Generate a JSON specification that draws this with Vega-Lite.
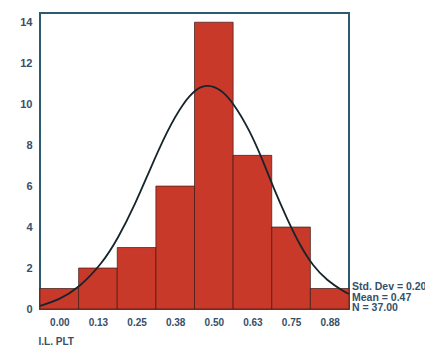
{
  "$schema": "https://vega.github.io/schema/vega-lite/v6.json",
  "width": 309,
  "height": 296,
  "autosize": "none",
  "padding": {"left": 40, "top": 13, "right": 76, "bottom": 43},
  "background": "white",
  "config": {
    "view": {"stroke": "#2c5a6e", "strokeWidth": 2},
    "font": "Liberation Sans"
  },
  "datasets": {
    "bins": [
      {"bin_start": -0.0625, "bin_end": 0.0625, "count": 1},
      {"bin_start": 0.0625, "bin_end": 0.1875, "count": 2},
      {"bin_start": 0.1875, "bin_end": 0.3125, "count": 3},
      {"bin_start": 0.3125, "bin_end": 0.4375, "count": 6},
      {"bin_start": 0.4375, "bin_end": 0.5625, "count": 14},
      {"bin_start": 0.5625, "bin_end": 0.6875, "count": 7.5},
      {"bin_start": 0.6875, "bin_end": 0.8125, "count": 4},
      {"bin_start": 0.8125, "bin_end": 0.9375, "count": 1}
    ],
    "curve": [
      {"x": -0.0625, "y": 0.15},
      {"x": 0.0, "y": 0.45},
      {"x": 0.0605, "y": 1.0},
      {"x": 0.138, "y": 2.2},
      {"x": 0.19, "y": 3.45},
      {"x": 0.245, "y": 5.1},
      {"x": 0.293, "y": 6.8},
      {"x": 0.349, "y": 8.7},
      {"x": 0.4, "y": 10.05},
      {"x": 0.446, "y": 10.8},
      {"x": 0.481, "y": 10.95},
      {"x": 0.52, "y": 10.75},
      {"x": 0.562, "y": 10.1},
      {"x": 0.617, "y": 8.7},
      {"x": 0.66, "y": 7.2},
      {"x": 0.692, "y": 5.95},
      {"x": 0.737, "y": 4.4},
      {"x": 0.779, "y": 3.1},
      {"x": 0.821, "y": 2.1},
      {"x": 0.866, "y": 1.4},
      {"x": 0.918, "y": 0.88},
      {"x": 0.9375, "y": 0.73}
    ]
  },
  "layer": [
    {
      "data": {"name": "bins"},
      "mark": {"type": "rect", "color": "#c8392a", "stroke": "#3a1a14", "strokeWidth": 0.7},
      "encoding": {
        "x": {
          "field": "bin_start", "type": "quantitative",
          "scale": {"domain": [-0.0625, 0.9375], "nice": false, "zero": false},
          "axis": {
            "values": [0, 0.125, 0.25, 0.375, 0.5, 0.625, 0.75, 0.875],
            "format": ".2f",
            "grid": false, "domain": false, "ticks": false,
            "labelPadding": 8, "labelFontSize": 10, "labelFontWeight": "bold",
            "labelColor": "#34506a",
            "title": "I.L. PLT", "titleAnchor": "start", "titleAlign": "left",
            "titleX": -2, "titleFontSize": 10, "titleFontWeight": "bold",
            "titleColor": "#34506a", "titlePadding": 9
          }
        },
        "x2": {"field": "bin_end"},
        "y": {
          "field": "count", "type": "quantitative",
          "scale": {"domain": [0, 14.45], "nice": false},
          "axis": {
            "values": [0, 2, 4, 6, 8, 10, 12, 14],
            "grid": false, "domain": false, "ticks": false,
            "labelPadding": 8, "labelFontSize": 11, "labelFontWeight": "bold",
            "labelColor": "#34506a", "title": null
          }
        },
        "y2": {"datum": 0}
      }
    },
    {
      "data": {"name": "curve"},
      "mark": {"type": "line", "color": "#16242c", "strokeWidth": 1.8, "interpolate": "basis"},
      "encoding": {
        "x": {"field": "x", "type": "quantitative"},
        "y": {"field": "y", "type": "quantitative"}
      }
    },
    {
      "data": {"values": [{"stat": "summary"}]},
      "mark": {
        "type": "text",
        "text": ["Std. Dev = 0.20", "Mean = 0.47", "N = 37.00"],
        "align": "left", "baseline": "middle", "dx": 3,
        "fontSize": 10.5, "fontWeight": "bold", "lineHeight": 10.5,
        "color": "#34506a", "clip": false
      },
      "encoding": {
        "x": {"datum": 0.9375, "type": "quantitative"},
        "y": {"datum": 1.05, "type": "quantitative"}
      }
    }
  ]
}
